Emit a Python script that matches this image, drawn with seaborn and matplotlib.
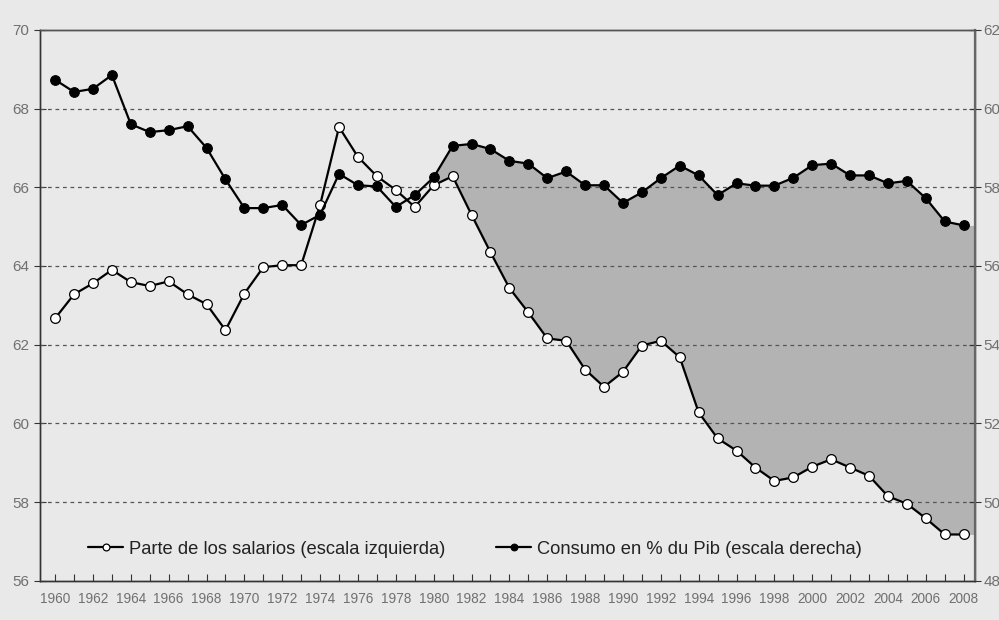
import seaborn as sns
import matplotlib.pyplot as plt
import pandas as pd
from matplotlib.ticker import MultipleLocator

# Years on the x axis
years = list(range(1960, 2009))

# Wage share, left scale
salarios = [62.67, 63.28, 63.56, 63.9, 63.59, 63.49, 63.61, 63.28, 63.03, 62.37,
            63.3, 63.97, 64.02, 64.02, 65.55, 67.53, 66.77, 66.28, 65.93, 65.5,
            66.05, 66.28, 65.3, 64.35, 63.44, 62.82, 62.16, 62.1, 61.37, 60.93,
            61.31, 61.98, 62.1, 61.68, 60.28, 59.62, 59.31, 58.88, 58.54, 58.63,
            58.9, 59.09, 58.88, 58.67, 58.15, 57.96, 57.59, 57.18, 57.18]

# Consumption as % of GDP, right scale
consumo = [60.73, 60.42, 60.5, 60.85, 59.6, 59.4, 59.45, 59.55, 59.0, 58.2,
           57.47, 57.47, 57.55, 57.04, 57.3, 58.34, 58.05, 58.02, 57.5, 57.8,
           58.25, 59.05, 59.1, 58.97, 58.67, 58.6, 58.23, 58.4, 58.05, 58.05,
           57.6, 57.87, 58.23, 58.55, 58.3, 57.8, 58.1, 58.04, 58.04, 58.24,
           58.56, 58.6, 58.3, 58.3, 58.1, 58.16, 57.72, 57.13, 57.03]

left_ticks = [56, 58, 60, 62, 64, 66, 68, 70]
right_ticks = [48, 50, 52, 54, 56, 58, 60, 62]
fill_from = 1980

df = pd.DataFrame({'year': years, 'salarios': salarios, 'consumo': consumo})

bg = '#e9e9e9'
sns.set_theme(style='white')
plt.rcParams['font.family'] = ['Liberation Sans', 'DejaVu Sans']

fig = plt.figure(figsize=(9.99, 6.2), dpi=100, facecolor=bg)
ax = fig.add_axes([0.04, 0.063, 0.936, 0.889])
ax.set_facecolor(bg)
ax2 = ax.twinx()

xmin, xmax = 1959.2, 2008.6

# shaded gap between the two series (consumption shifted onto left scale),
# carried flat from the last year to the right border
shift = left_ticks[0] - right_ticks[0]
part = df[df.year >= fill_from]
fx = list(part.year) + [xmax]
flo = list(part.salarios) + [part.salarios.iloc[-1]]
fhi = list(part.consumo + shift) + [part.consumo.iloc[-1] + shift]
ax.fill_between(fx, flo, fhi, color='#b3b3b3', linewidth=0, zorder=1)

sns.lineplot(data=df, x='year', y='salarios', ax=ax, color='black', lw=1.6,
             marker='o', markersize=7, markerfacecolor='white',
             markeredgecolor='black', markeredgewidth=0.9, zorder=3,
             label='Parte de los salarios (escala izquierda)', legend=False)
sns.lineplot(data=df, x='year', y='consumo', ax=ax2, color='black', lw=1.6,
             marker='o', markersize=7, markerfacecolor='black',
             markeredgecolor='black', zorder=3,
             label='Consumo en % du Pib (escala derecha)', legend=False)

ax.set_xlim(xmin, xmax)
ax.set_ylim(left_ticks[0], left_ticks[-1])
ax2.set_ylim(right_ticks[0], right_ticks[-1])
ax.set_yticks(left_ticks)
ax2.set_yticks(right_ticks)
ax.set_xticks(years[::2])
ax.xaxis.set_minor_locator(MultipleLocator(1))
ax.set_xlabel('')
ax.set_ylabel('')
ax2.set_ylabel('')

for y in left_ticks[1:-1]:
    ax.axhline(y, color='#555555', lw=0.9, ls=(0, (3, 3)), zorder=2)

tick_col = '#707070'
ax.tick_params(axis='x', which='both', direction='in', length=5, width=0.8,
               colors='#333333', labelcolor=tick_col, labelsize=9.8, pad=8, bottom=True)
ax.tick_params(axis='y', direction='inout', length=8, width=0.8,
               colors='#333333', labelcolor=tick_col, labelsize=11, pad=4, left=True)
ax2.tick_params(axis='y', direction='inout', length=8, width=0.8,
                colors='#333333', labelcolor=tick_col, labelsize=11, pad=2, right=True)

for a in (ax, ax2):
    for s in a.spines.values():
        s.set_color('#333333')
        s.set_linewidth(1.0)
ax2.spines['top'].set_color('#555555')
ax2.spines['right'].set_color('#666666')
ax2.spines['right'].set_linewidth(1.6)

h1, l1 = ax.get_legend_handles_labels()
h2, l2 = ax2.get_legend_handles_labels()
leg = ax2.legend(h1 + h2, l1 + l2, loc='lower left', bbox_to_anchor=(0.034, 0.012),
                 ncol=2, frameon=False, fontsize=13.2, handlelength=1.9,
                 handletextpad=0.3, columnspacing=2.8, markerscale=0.7)
for t in leg.get_texts():
    t.set_color('#222222')

fig.savefig('out.png', dpi=100, facecolor=bg)
